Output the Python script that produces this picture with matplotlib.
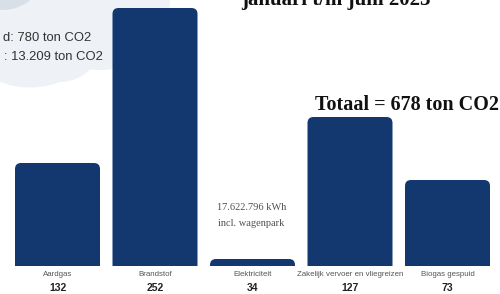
import matplotlib.pyplot as plt
from matplotlib.patches import FancyBboxPatch, Rectangle, Circle, Ellipse

categories = ["Aardgas", "Brandstof", "Elektriciteit",
              "Zakelijk vervoer en vliegreizen", "Biogas gespuid"]
emissions = [132, 252, 34, 127, 73]
# bar heights as drawn in the infographic (not proportional to the labels)
bar_heights = [103, 258, 7, 149, 86]
total = 678  # as printed on the original
cloud_lines = ["d: 780 ton CO2", ": 13.209 ton CO2"]  # cropped at the left in the source

navy = "#13386f"

fig = plt.figure(figsize=(5, 2.94), dpi=100)
ax = fig.add_axes([0, 0, 1, 1])
ax.set_xlim(0, 500)
ax.set_ylim(-28, 266)
ax.axis("off")


def py(y_px):
    # pixel row from top -> data y
    return 266 - y_px


# cloud in the top-left corner
cloud = "#eef1f5"
for c in [Circle((100, py(0)), 70), Ellipse((30, py(45)), 120, 85),
          Circle((60, py(40)), 42), Circle((0, py(20)), 60)]:
    c.set_facecolor(cloud)
    c.set_edgecolor("none")
    c.set_zorder(1)
    ax.add_patch(c)
ax.add_patch(Circle((3, py(-32)), 42, facecolor="#d9dfe7", edgecolor="none", zorder=1.5))

ax.text(91, py(38), cloud_lines[0], ha="right", va="center",
        fontsize=9.4, family="Liberation Sans", color="#333333", zorder=2)
ax.text(103, py(57), cloud_lines[1], ha="right", va="center",
        fontsize=9.4, family="Liberation Sans", color="#333333", zorder=2)

xs = [57.5 + 97.5 * i for i in range(len(categories))]
width = 85
bars = ax.bar(xs, bar_heights, width=width, color=navy)
for b in bars:
    b.set_visible(False)
    x, w, h = b.get_x(), b.get_width(), b.get_height()
    p = FancyBboxPatch((x, -12), w, h + 12,
                       boxstyle="round,pad=0,rounding_size=6",
                       facecolor=navy, edgecolor="none", zorder=3)
    ax.add_patch(p)
    p.set_clip_path(Rectangle((x - 2, 0), w + 4, 400, transform=ax.transData))

for x, name, val in zip(xs, categories, emissions):
    ax.text(x, py(274), name, ha="center", va="center", fontsize=5.7,
            family="Liberation Sans", color="#555555")
    ax.text(x, py(288), str(val), ha="center", va="center", fontsize=7.5,
            family="Liberation Sans", fontweight="bold", color="#222222")

ax.text(xs[2] - 1, py(208), "17.622.796 kWh", ha="center", va="center",
        fontsize=7.5, family="Liberation Serif", color="#505050")
ax.text(xs[2] - 1, py(223), "incl. wagenpark", ha="center", va="center",
        fontsize=7.5, family="Liberation Serif", color="#505050")

ax.text(407, py(105), f"Totaal = {total} ton CO2", ha="center", va="center",
        fontsize=14.5, family="Liberation Serif", fontweight="bold", color="#111111")

ax.text(336, py(5), "januari t/m juni 2023", ha="center", va="baseline",
        fontsize=15, family="Liberation Serif", fontweight="bold", color="#111111",
        clip_on=False)

fig.savefig("out.png", dpi=100)
